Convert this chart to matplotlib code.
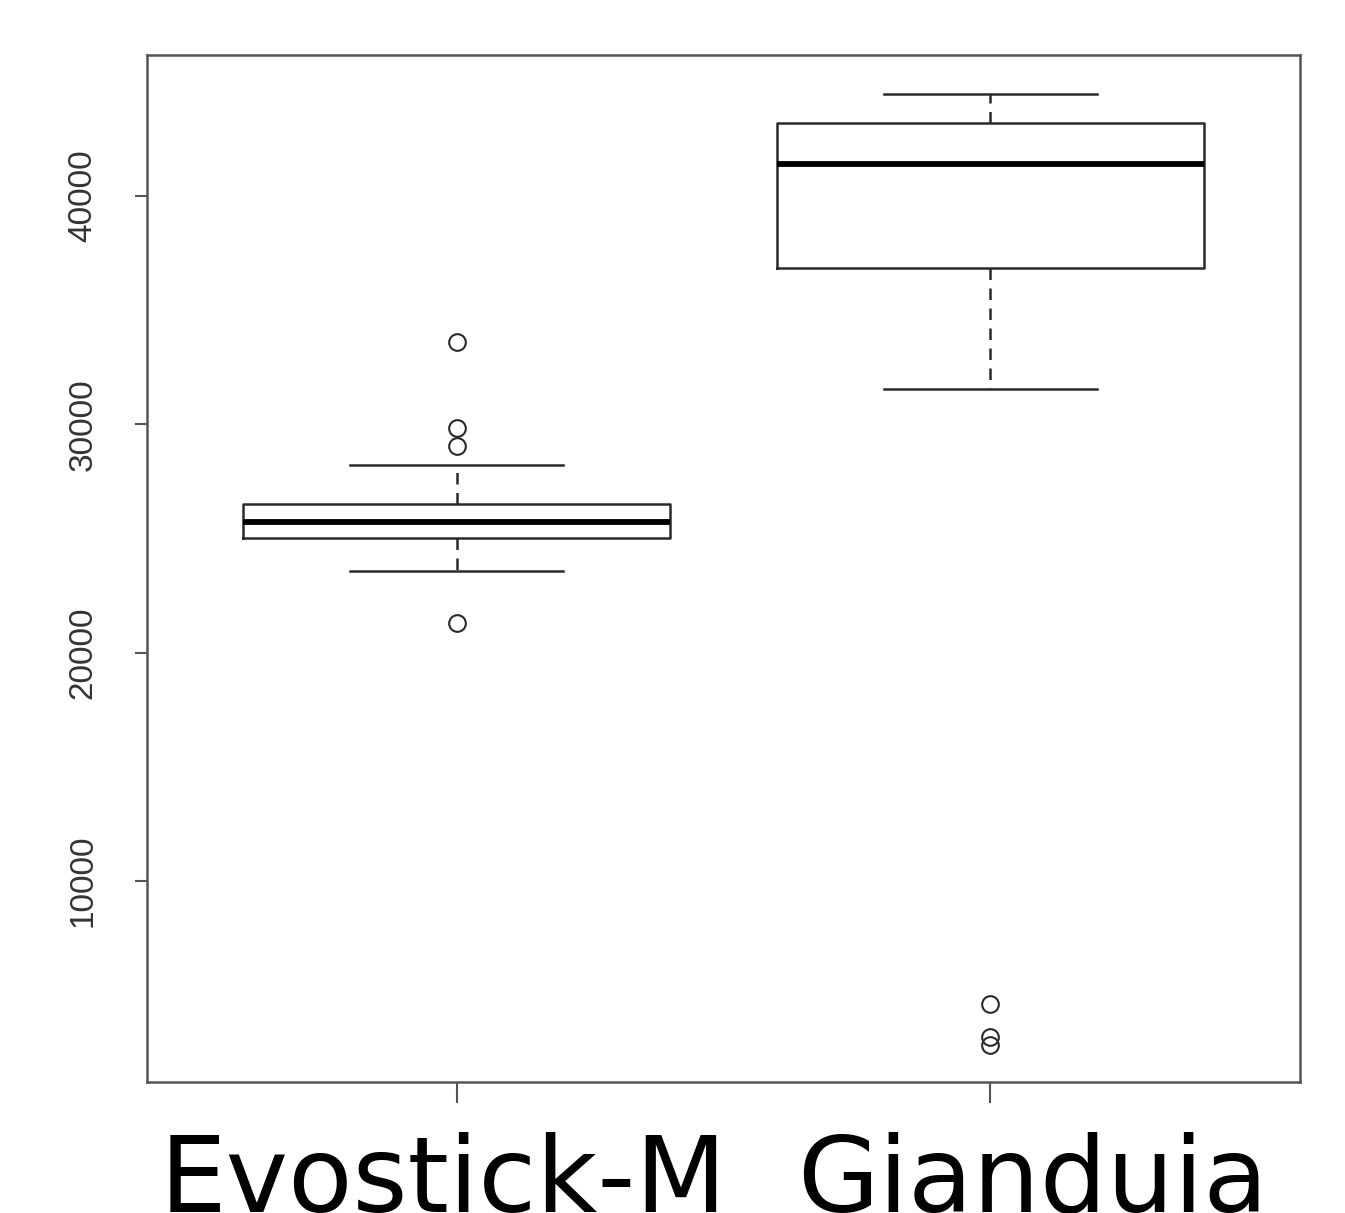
import matplotlib
matplotlib.use("Agg")
import matplotlib.pyplot as plt
from matplotlib.transforms import ScaledTranslation

# box statistics
groups = ["Evostick-M", "Gianduia"]
medians = [25720, 41400]
q1 = [25020, 36850]
q3 = [26510, 43200]
whisker_lo = [23580, 31550]
whisker_hi = [28220, 44470]
outliers = [[33600, 29840, 29050, 21300], [4610, 3160, 2810]]

yticks = [10000, 20000, 30000, 40000]

stats = []
for i, name in enumerate(groups):
    stats.append({
        "label": name,
        "med": medians[i],
        "q1": q1[i],
        "q3": q3[i],
        "whislo": whisker_lo[i],
        "whishi": whisker_hi[i],
        "fliers": outliers[i],
    })

fig = plt.figure(figsize=(13.45, 12.13), dpi=100)
ax = fig.add_axes([0.1093, 0.108, 0.8572, 0.8467])

line_col = "#2a2a2a"
ax.bxp(
    stats,
    positions=[1, 2],
    widths=0.8,
    boxprops=dict(color=line_col, linewidth=1.8),
    medianprops=dict(color="black", linewidth=4.2, solid_capstyle="butt"),
    whiskerprops=dict(color=line_col, linewidth=1.8, linestyle=(0, (4.6, 3.4))),
    capprops=dict(color=line_col, linewidth=1.8),
    capwidths=0.4,
    flierprops=dict(marker="o", markersize=12, markerfacecolor="none",
                    markeredgecolor=line_col, markeredgewidth=1.5),
)

ax.set_xlim(0.42, 2.58)
ax.set_ylim(1196, 46176)
ax.set_yticks(yticks)
ax.set_yticklabels([str(v) for v in yticks], rotation=90, va="center",
                   fontsize=24, color="#333333", family="Liberation Sans")
ax.set_xticks([1, 2])
ax.set_xticklabels(groups, fontsize=76)

ax.tick_params(axis="y", length=9, width=1.5, color="#555555", pad=26)
ax.tick_params(axis="x", length=15, width=1.5, color="#555555", pad=21)
for sp in ax.spines.values():
    sp.set_color("#555555")
    sp.set_linewidth(1.8)

# labels in the reference sit a little off their ticks
shifts = [-13, 42]
for lab, dx in zip(ax.get_xticklabels(), shifts):
    lab.set_transform(lab.get_transform() + ScaledTranslation(dx / 100, 0, fig.dpi_scale_trans))

fig.savefig("out.png", dpi=100)
